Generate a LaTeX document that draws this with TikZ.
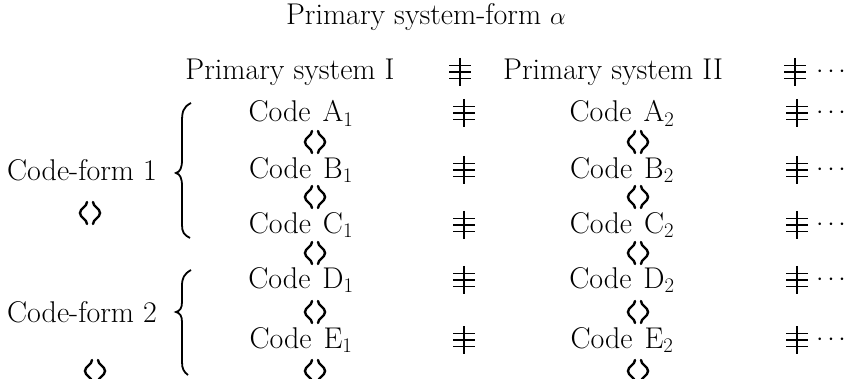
\documentclass[tikz,border=0pt]{standalone}
\begin{document}
\begin{tikzpicture}[x=1pt,y=-1pt,
  txt/.style={inner sep=0pt,font=\fontsize{30}{36}\selectfont},
  dotsnode/.style={inner sep=0pt,font=\fontsize{26}{30}\selectfont},
  neqsym/.pic={\draw[line width=1.7pt] (-11,-6.5)--(11,-6.5) (-11,0)--(11,0) (-11,6.5)--(11,6.5) (0,-14)--(0,14);},
  convsym/.pic={\draw[line width=2.4pt,line cap=round]
     (-3,-11) .. controls (-3,-6) and (-10,-5) .. (-10,0) .. controls (-10,5) and (-3,6) .. (-3,11)
     (3,-11) .. controls (3,-6) and (10,-5) .. (10,0) .. controls (10,5) and (3,6) .. (3,11);},
  bracepath/.style={line width=1.8pt}
]
\useasboundingbox (0,0) rectangle (851,379);

% title
\node[txt] (title) at (426,17) {Primary system-form $\alpha$};

% header row
\node[txt] (ps1) at (290,72) {Primary system I};
\pic (hneq1) at (460,72) {neqsym};
\node[txt] (ps2) at (613,72) {Primary system II};
\pic (hneq2) at (795,72) {neqsym};
\node[dotsnode] (hdots) at (831,72) {$\cdots$};

% code rows
\foreach \L/\y in {A/113,B/170,C/225,D/280,E/340}{
  \node[txt] (c\L1) at (301,\y) {Code\hspace{0.4em}\L$_1$};
  \pic (n\L1) at (464,\y) {neqsym};
  \node[txt] (c\L2) at (622,\y) {Code\hspace{0.4em}\L$_2$};
  \pic (n\L2) at (797,\y) {neqsym};
  \node[dotsnode] (dots\L) at (831,\y) {$\cdots$};
}

% convertibility symbols between codes
\foreach \n/\y in {ab/142,bc/197,cd/253,de/312,ez/371}{
  \pic (k\n1) at (315,\y) {convsym};
  \pic (k\n2) at (638,\y) {convsym};
}

% code forms
\node[txt] (cf1) at (82,170) {Code-form 1};
\pic (kcf1) at (90,213) {convsym};
\node[txt] (cf2) at (82,312) {Code-form 2};
\pic (kcf2) at (95,371) {convsym};

% braces
\draw[bracepath] (191,103) .. controls (183,107) and (182,112) .. (182,122)
  -- (182,160) .. controls (182,168) and (180,172) .. (176,173)
  .. controls (180,174) and (182,178) .. (182,186)
  -- (182,225) .. controls (182,232) and (184,235) .. (190,238);
\draw[bracepath] (191,270) .. controls (184,274) and (182,278) .. (182,286)
  -- (182,302) .. controls (182,308) and (180,311) .. (176,312)
  .. controls (180,313) and (182,316) .. (182,322)
  -- (182,362) .. controls (182,369) and (184,372) .. (188,375);
\end{tikzpicture}
\end{document}
